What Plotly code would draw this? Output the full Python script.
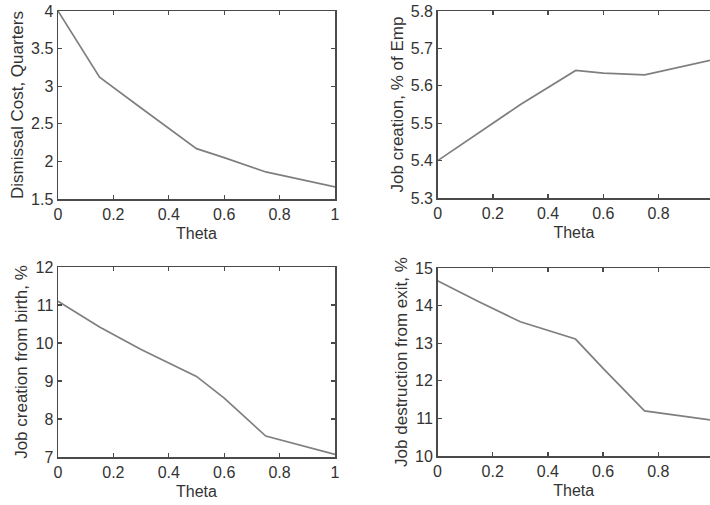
import plotly.graph_objects as go

theta = [0, 0.15, 0.3, 0.5, 0.6, 0.75, 1.0]
dismissal_cost = [4.0, 3.12, 2.71, 2.17, 2.05, 1.86, 1.66]
job_creation = [5.40, 5.475, 5.55, 5.641, 5.634, 5.629, 5.67]
creation_birth = [11.1, 10.42, 9.83, 9.12, 8.55, 7.55, 7.07]
destruction_exit = [14.66, 14.1, 13.57, 13.11, 12.33, 11.2, 10.95]

x_ticks = [0, 0.2, 0.4, 0.6, 0.8, 1]
x_ticklabels = ["0", "0.2", "0.4", "0.6", "0.8", "1"]

W, H = 710, 505
fig = go.Figure()

panels = [
    dict(y=dismissal_cost, title="Dismissal Cost, Quarters", yr=[1.5, 4],
         yt=[1.5, 2, 2.5, 3, 3.5, 4], ytl=["1.5", "2", "2.5", "3", "3.5", "4"],
         px=(58, 335), py=(11, 199), right=False),
    dict(y=job_creation, title="Job creation, % of Emp", yr=[5.3, 5.8],
         yt=[5.3, 5.4, 5.5, 5.6, 5.7, 5.8], ytl=["5.3", "5.4", "5.5", "5.6", "5.7", "5.8"],
         px=(437.7, 710), py=(11, 198), right=True),
    dict(y=creation_birth, title="Job creation from birth, %", yr=[7, 12],
         yt=[7, 8, 9, 10, 11, 12], ytl=["7", "8", "9", "10", "11", "12"],
         px=(58, 335), py=(267, 457), right=False),
    dict(y=destruction_exit, title="Job destruction from exit, %", yr=[10, 15],
         yt=[10, 11, 12, 13, 14, 15], ytl=["10", "11", "12", "13", "14", "15"],
         px=(437.5, 710), py=(268, 456), right=True),
]

font_family = "Liberation Sans, Arial, sans-serif"
spine = "#4a4a4a"
txt = "#333333"

for i, p in enumerate(panels):
    n = "" if i == 0 else str(i + 1)
    xa = "x" + n
    ya = "y" + n
    fig.add_trace(go.Scatter(x=theta, y=p["y"], mode="lines",
                             line=dict(color="#7f7f7f", width=1.7),
                             xaxis=xa, yaxis=ya, showlegend=False,
                             hoverinfo="skip"))
    x0, x1 = p["px"]
    y0, y1 = p["py"]
    xr = [0, 1] if not p["right"] else [0, (x1 - x0) / 276.0]
    fig.update_layout(**{
        "xaxis" + n: dict(
            domain=[x0 / W, min(x1 / W, 1.0)], anchor=ya, range=xr,
            tickvals=x_ticks, ticktext=x_ticklabels,
            ticks="inside", ticklen=4, tickcolor=spine, tickwidth=1.2,
            showline=True, linecolor=spine, linewidth=1.5,
            mirror="ticks", showgrid=False, zeroline=False, automargin=False,
            ticklabeloverflow="allow",
            tickfont=dict(family=font_family, size=16, color=txt),
            title=dict(text="Theta", standoff=6,
                       font=dict(family=font_family, size=16, color=txt)),
        ),
        "yaxis" + n: dict(
            domain=[1 - y1 / H, 1 - y0 / H], anchor=xa, range=p["yr"],
            tickvals=p["yt"], ticktext=p["ytl"],
            ticks="inside", ticklen=4, tickcolor=spine, tickwidth=1.2,
            showline=True, linecolor=spine, linewidth=1.5,
            mirror=("ticks" if not p["right"] else False),
            showgrid=False, zeroline=False, automargin=False,
            ticklabeloverflow="allow",
            tickfont=dict(family=font_family, size=16, color=txt),
            title=dict(text=p["title"], standoff=3,
                       font=dict(family=font_family, size=17, color=txt)),
        ),
    })

fig.update_layout(
    template="none",
    width=W, height=H,
    margin=dict(l=0, r=0, t=0, b=0),
    paper_bgcolor="white", plot_bgcolor="white",
)

fig.write_html(
    "out.html",
    config={"displayModeBar": False, "staticPlot": True},
    post_script="document.body.style.margin='0';document.body.style.overflow='hidden';",
)
